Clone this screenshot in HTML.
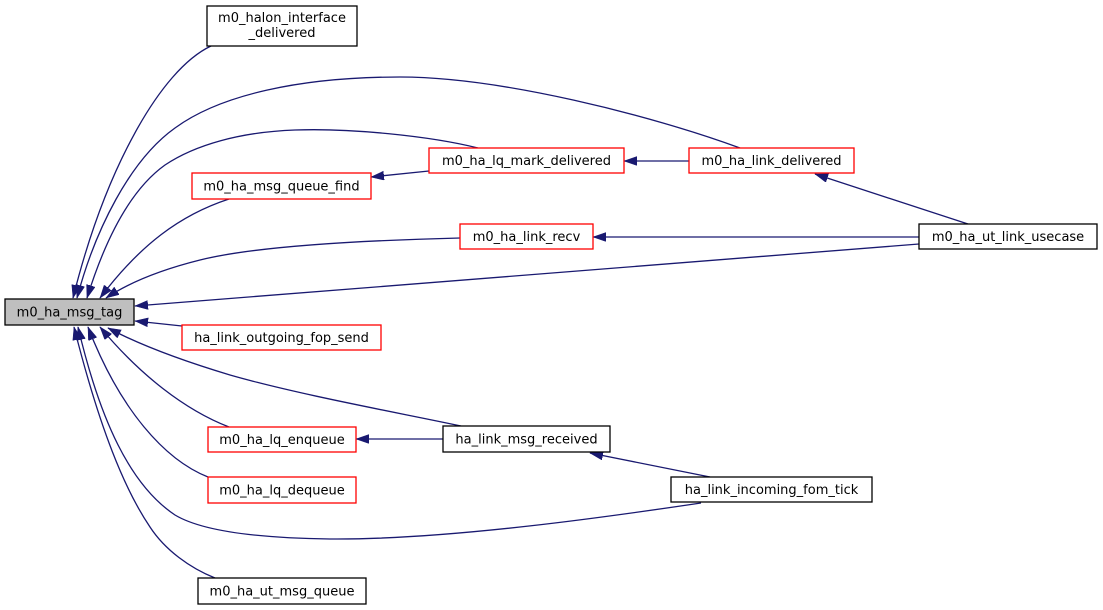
<!DOCTYPE html>
<html><head><meta charset="utf-8"><style>
html,body{margin:0;padding:0;background:#fff;}
svg{display:block;}
text{font-family:"DejaVu Sans","Liberation Sans",sans-serif;font-size:13px;fill:#000;text-anchor:middle;}
</style></head><body>
<svg width="1103" height="610" viewBox="0 0 1103 610" xmlns="http://www.w3.org/2000/svg">
<defs>
<marker id="a" markerUnits="userSpaceOnUse" markerWidth="14" markerHeight="10" refX="13" refY="4.5" orient="auto">
<path d="M0,0 L13,4.5 L0,9 z" fill="#191970" stroke="#191970" stroke-width="0.5"/>
</marker>
</defs>
<g fill="none" stroke="#191970" stroke-width="1.3" marker-end="url(#a)">
<path d="M211,46 C160,70 105,170 73,298"/>
<path d="M740,148 C650,115 500,77 400,77 C300,77 220,95 175,128 C130,160 95,230 77,298"/>
<path d="M478,148 C430,136 350,128 295,130 C240,132 195,145 165,165 C130,190 105,240 87,298"/>
<path d="M229,199 C180,215 140,245 100,298"/>
<path d="M460,238 C380,240 260,245 200,260 C160,270 130,282 106,298"/>
<path d="M919,244 L135,306"/>
<path d="M182,326 L135,321"/>
<path d="M461,426 C400,413 300,395 230,375 C180,360 140,345 108,328"/>
<path d="M229,427 C185,410 140,375 100,327"/>
<path d="M208,477 C165,460 120,410 88,327"/>
<path d="M701,503 C620,515 450,540 330,539 C250,538 200,530 175,515 C130,485 100,420 78,327"/>
<path d="M215,578 C190,568 165,550 150,527 C125,490 100,430 74,327"/>
<path d="M689,161 L624,161"/>
<path d="M429,171 L371,177"/>
<path d="M919,237 L593,237"/>
<path d="M968,224 L815,174"/>
<path d="M443,439 L356,439"/>
<path d="M710,477 L590,453"/>
</g>
<g stroke-width="1.3">
<rect x="207" y="6" width="150" height="40" fill="#fff" stroke="#000"/>
<rect x="689" y="148" width="165" height="25" fill="#fff" stroke="#ff0000"/>
<rect x="429" y="148" width="195" height="25" fill="#fff" stroke="#ff0000"/>
<rect x="192" y="173" width="179" height="26" fill="#fff" stroke="#ff0000"/>
<rect x="460" y="224" width="133" height="25" fill="#fff" stroke="#ff0000"/>
<rect x="919" y="224" width="178" height="25" fill="#fff" stroke="#000"/>
<rect x="5" y="299" width="129" height="26" fill="#bfbfbf" stroke="#000"/>
<rect x="182" y="325" width="199" height="25" fill="#fff" stroke="#ff0000"/>
<rect x="208" y="427" width="148" height="25" fill="#fff" stroke="#ff0000"/>
<rect x="443" y="426" width="167" height="26" fill="#fff" stroke="#000"/>
<rect x="208" y="477" width="148" height="26" fill="#fff" stroke="#ff0000"/>
<rect x="671" y="477" width="201" height="25" fill="#fff" stroke="#000"/>
<rect x="198" y="578" width="168" height="26" fill="#fff" stroke="#000"/>
</g>
<text x="282" y="22">m0_halon_interface</text>
<text x="282" y="37">_delivered</text>
<text x="771.5" y="165">m0_ha_link_delivered</text>
<text x="526.5" y="165">m0_ha_lq_mark_delivered</text>
<text x="281.5" y="190.5">m0_ha_msg_queue_find</text>
<text x="526.5" y="241">m0_ha_link_recv</text>
<text x="1008" y="241">m0_ha_ut_link_usecase</text>
<text x="69.5" y="316.5">m0_ha_msg_tag</text>
<text x="281.5" y="342">ha_link_outgoing_fop_send</text>
<text x="282" y="444">m0_ha_lq_enqueue</text>
<text x="526.5" y="443.5">ha_link_msg_received</text>
<text x="282" y="494.5">m0_ha_lq_dequeue</text>
<text x="771.5" y="494">ha_link_incoming_fom_tick</text>
<text x="282" y="595.5">m0_ha_ut_msg_queue</text>
</svg>
</body></html>
